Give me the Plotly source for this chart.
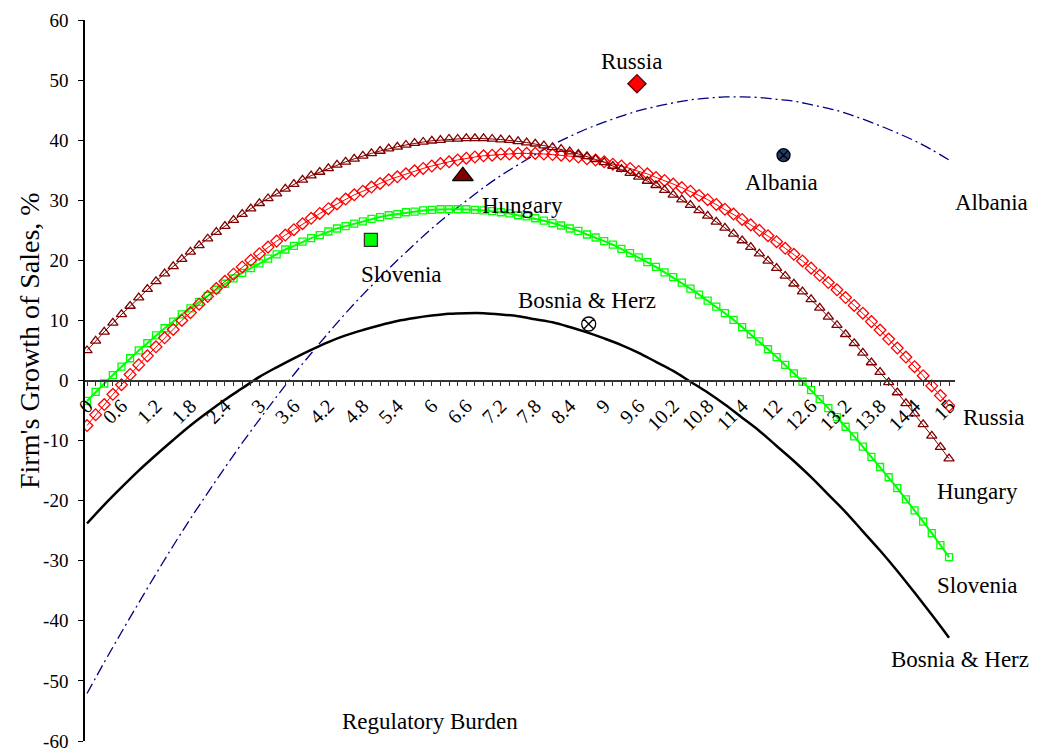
import plotly.graph_objects as go

# Regulatory burden categories (every 0.15) for the marker curves
burden = [0, 0.15, 0.3, 0.45, 0.6, 0.75, 0.9, 1.05, 1.2, 1.35, 1.5, 1.65, 1.8, 1.95, 2.1, 2.25,
          2.4, 2.55, 2.7, 2.85, 3, 3.15, 3.3, 3.45, 3.6, 3.75, 3.9, 4.05, 4.2, 4.35, 4.5, 4.65,
          4.8, 4.95, 5.1, 5.25, 5.4, 5.55, 5.7, 5.85, 6, 6.15, 6.3, 6.45, 6.6, 6.75, 6.9, 7.05,
          7.2, 7.35, 7.5, 7.65, 7.8, 7.95, 8.1, 8.25, 8.4, 8.55, 8.7, 8.85, 9, 9.15, 9.3, 9.45,
          9.6, 9.75, 9.9, 10.05, 10.2, 10.35, 10.5, 10.65, 10.8, 10.95, 11.1, 11.25, 11.4, 11.55,
          11.7, 11.85, 12, 12.15, 12.3, 12.45, 12.6, 12.75, 12.9, 13.05, 13.2, 13.35, 13.5, 13.65,
          13.8, 13.95, 14.1, 14.25, 14.4, 14.55, 14.7, 14.85, 15]

hungary = [5.0, 6.6, 8.1, 9.6, 11.0, 12.4, 13.8, 15.2, 16.5, 17.8, 19.0, 20.2, 21.4, 22.5, 23.6, 24.7,
           25.7, 26.7, 27.7, 28.6, 29.5, 30.3, 31.1, 31.9, 32.7, 33.4, 34.1, 34.7, 35.3, 35.9, 36.4, 36.9,
           37.4, 37.8, 38.2, 38.6, 38.9, 39.2, 39.5, 39.7, 39.9, 40.0, 40.2, 40.2, 40.3, 40.3, 40.3, 40.2,
           40.1, 40.0, 39.8, 39.6, 39.4, 39.1, 38.8, 38.5, 38.1, 37.7, 37.3, 36.8, 36.3, 35.7, 35.2, 34.5,
           33.9, 33.2, 32.5, 31.7, 30.9, 30.1, 29.2, 28.3, 27.4, 26.4, 25.4, 24.4, 23.3, 22.2,
           21.1, 19.9, 18.7, 17.4, 16.1, 14.8, 13.5, 12.1, 10.6, 9.2, 7.7, 6.2, 4.6, 3.0,
           1.4, -0.3, -2.0, -3.8, -5.5, -7.3, -9.2, -11.1, -13.0]

russia = [-7.5, -5.7, -4.0, -2.3, -0.7, 1.0, 2.6, 4.1, 5.6, 7.1, 8.5, 10.0, 11.3, 12.7, 14.0, 15.3,
          16.5, 17.7, 18.9, 20.0, 21.1, 22.2, 23.2, 24.2, 25.1, 26.1, 27.0, 27.8, 28.6, 29.4, 30.2, 30.9,
          31.5, 32.2, 32.8, 33.4, 33.9, 34.4, 34.9, 35.3, 35.7, 36.1, 36.4, 36.7, 37.0, 37.2, 37.4, 37.5,
          37.7, 37.7, 37.8, 37.8, 37.8, 37.7, 37.6, 37.5, 37.4, 37.2, 36.9, 36.7, 36.4, 36.0, 35.7, 35.3,
          34.8, 34.4, 33.8, 33.3, 32.7, 32.1, 31.5, 30.8, 30.1, 29.3, 28.5, 27.7, 26.8, 25.9,
          25.0, 24.1, 23.1, 22.0, 21.0, 19.9, 18.7, 17.5, 16.3, 15.1, 13.8, 12.5, 11.2, 9.8,
          8.4, 6.9, 5.4, 3.9, 2.3, 0.8, -0.9, -2.5, -4.2]

slovenia = [-3.4, -1.9, -0.5, 0.9, 2.3, 3.7, 5.0, 6.2, 7.5, 8.7, 9.8, 11.0, 12.0, 13.1, 14.1, 15.1,
            16.1, 17.0, 17.9, 18.7, 19.5, 20.3, 21.0, 21.8, 22.4, 23.1, 23.7, 24.2, 24.8, 25.3, 25.7, 26.1,
            26.5, 26.9, 27.2, 27.5, 27.7, 28.0, 28.1, 28.3, 28.4, 28.5, 28.5, 28.5, 28.5, 28.4, 28.3, 28.2,
            28.0, 27.8, 27.5, 27.3, 27.0, 26.6, 26.2, 25.8, 25.3, 24.9, 24.3, 23.8, 23.2, 22.6, 21.9, 21.2,
            20.5, 19.7, 18.9, 18.0, 17.2, 16.3, 15.3, 14.3, 13.3, 12.3, 11.2, 10.1, 8.9, 7.7,
            6.5, 5.2, 3.9, 2.6, 1.2, -0.2, -1.6, -3.1, -4.6, -6.1, -7.7, -9.3, -11.0, -12.7,
            -14.4, -16.1, -17.9, -19.8, -21.6, -23.5, -25.4, -27.4, -29.4]

# Line-only curves (read every 0.3)
burden_coarse = [0, 0.3, 0.6, 0.9, 1.2, 1.5, 1.8, 2.1, 2.4, 2.7, 3, 3.3, 3.6, 3.9, 4.2, 4.5, 4.8,
                 5.1, 5.4, 5.7, 6, 6.3, 6.6, 6.9, 7.2, 7.5, 7.8, 8.1, 8.4, 8.7, 9, 9.3, 9.6,
                 9.9, 10.2, 10.5, 10.8, 11.1, 11.4, 11.7, 12, 12.3, 12.6, 12.9, 13.2, 13.5, 13.8,
                 14.1, 14.4, 14.7, 15]

bosnia = [-23.8, -20.7, -17.8, -15.0, -12.4, -9.9, -7.5, -5.3, -3.2, -1.3, 0.6, 2.2, 3.7, 5.1, 6.4, 7.5, 8.4,
          9.2, 9.9, 10.4, 10.8, 11.1, 11.2, 11.2, 11.0, 10.7, 10.2, 9.7, 8.9, 8.0, 7.0, 5.9, 4.6,
          3.1, 1.6, -0.2, -2.0, -4.0, -6.2, -8.4, -10.9, -13.4, -16.1, -19.0, -21.9, -25.1, -28.3,
          -31.7, -35.3, -39.0, -42.8]

albania = [-52.1, -46.9, -41.9, -37.0, -32.2, -27.5, -23.0, -18.7, -14.5, -10.4, -6.5, -2.7, 1.0, 4.5, 7.9, 11.2, 14.3,
           17.2, 20.0, 22.7, 25.3, 27.7, 29.9, 32.1, 34.1, 35.9, 37.6, 39.2, 40.6, 41.9, 43.0, 44.0, 44.9,
           45.6, 46.2, 46.7, 47.0, 47.2, 47.2, 47.1, 46.8, 46.5, 45.9, 45.3, 44.5, 43.5, 42.4,
           41.2, 39.9, 38.4, 36.7]

# Country observations
countries = ["Russia", "Albania", "Hungary", "Slovenia", "Bosnia & Herz"]
obs_burden = [9.57, 12.12, 6.54, 4.94, 8.73]
obs_growth = [49.4, 37.5, 34.0, 23.4, 9.4]

x_ticks = [0, 0.6, 1.2, 1.8, 2.4, 3, 3.6, 4.2, 4.8, 5.4, 6, 6.6, 7.2, 7.8, 8.4, 9, 9.6,
           10.2, 10.8, 11.4, 12, 12.6, 13.2, 13.8, 14.4, 15]
y_ticks = [-60, -50, -40, -30, -20, -10, 0, 10, 20, 30, 40, 50, 60]

FONT = "Liberation Serif"

fig = go.Figure()

fig.add_trace(go.Scatter(x=burden_coarse, y=albania, mode="lines",
                         line=dict(color="#000080", width=1.3, dash="11px,4px,2px,4px", shape="spline")))
fig.add_trace(go.Scatter(x=burden_coarse, y=bosnia, mode="lines",
                         line=dict(color="black", width=2.5, shape="spline")))
fig.add_trace(go.Scatter(x=burden, y=slovenia, mode="lines+markers",
                         line=dict(color="#00FF00", width=2),
                         marker=dict(symbol="square-open", size=7, color="#00FF00", opacity=1,
                                     line=dict(width=1.3, color="#00FF00"))))
fig.add_trace(go.Scatter(x=burden, y=russia, mode="lines+markers",
                         line=dict(color="#FF0000", width=1),
                         marker=dict(symbol="diamond-open", size=9, color="#FF0000", opacity=1,
                                     line=dict(width=1.3, color="#FF0000"))))
fig.add_trace(go.Scatter(x=burden, y=hungary, mode="lines+markers",
                         line=dict(color="#800000", width=1),
                         marker=dict(symbol="triangle-up-open", size=9, color="#800000", opacity=1,
                                     line=dict(width=1.3, color="#800000"))))

obs_symbols = ["diamond", "circle-x", "triangle-up", "square", "circle-x-open"]
obs_colors = ["#FF0000", "#1F3A6E", "#800000", "#00FF00", "black"]
obs_sizes = [14, 13, 18, 13, 14]
obs_line = ["#600000", "black", "black", "#333333", "black"]
fig.add_trace(go.Scatter(x=obs_burden, y=obs_growth, mode="markers",
                         marker=dict(symbol=obs_symbols, color=obs_colors, size=obs_sizes, opacity=1,
                                     line=dict(color=obs_line, width=1.3))))

# Point labels
point_lab_x = [9.48, 12.09, 7.57, 5.48, 8.70]
point_lab_y = [53.1, 33.0, 29.1, 17.6, 13.3]
for t, xx, yy in zip(countries, point_lab_x, point_lab_y):
    fig.add_annotation(x=xx, y=yy, text=t, showarrow=False, xanchor="center", yanchor="middle",
                       font=dict(family=FONT, size=23, color="black"))

# Curve-end labels (placed to the right of the plot area)
end_lab = ["Albania", "Russia", "Hungary", "Slovenia", "Bosnia & Herz"]
end_lab_px = [1.0425, 1.0437, 1.0264, 1.0264, 1.0057]
end_lab_py = [0.7462, 0.448, 0.3467, 0.215, 0.1137]
for t, xx, yy in zip(end_lab, end_lab_px, end_lab_py):
    fig.add_annotation(xref="paper", yref="paper", x=xx, y=yy, text=t, showarrow=False,
                       xanchor="center", yanchor="middle",
                       font=dict(family=FONT, size=23, color="black"))

fig.add_annotation(xref="paper", yref="paper", x=0.3966, y=0.0264, text="Regulatory Burden",
                   showarrow=False, xanchor="center", yanchor="middle",
                   font=dict(family=FONT, size=23, color="black"))
fig.add_annotation(xref="paper", yref="paper", x=-0.0632, y=0.5548,
                   text="Firm's Growth of Sales, %", textangle=-90, showarrow=False,
                   xanchor="center", yanchor="middle",
                   font=dict(family=FONT, size=28, color="black"))

fig.update_layout(
    width=1033, height=745,
    paper_bgcolor="white", plot_bgcolor="white",
    margin=dict(l=77, r=86, t=12, b=12, autoexpand=False),
    showlegend=False,
    font=dict(family=FONT, color="black"),
    xaxis=dict(range=[-0.035, 15.104], anchor="free", position=0.5, automargin=False,
               tickmode="array", tickvals=x_ticks, ticktext=[str(v) for v in x_ticks],
               tickangle=-45, ticks="outside", ticklen=5, tickcolor="#333333",
               showline=True, linecolor="#333333", linewidth=1.5,
               showgrid=False, zeroline=False, ticklabeloverflow="allow",
               minor=dict(dtick=0.15, tick0=0, ticks="outside", ticklen=5, tickcolor="#333333", showgrid=False),
               tickfont=dict(family=FONT, size=20, color="black")),
    yaxis=dict(range=[-60, 60], tickmode="array", tickvals=y_ticks, automargin=False,
               ticktext=[str(v) for v in y_ticks], ticklabelstandoff=6, ticklabeloverflow="allow",
               ticks="outside", ticklen=5, tickcolor="black",
               showline=True, linecolor="black", linewidth=1.5,
               showgrid=False, zeroline=False,
               tickfont=dict(family=FONT, size=19, color="black")),
)

fig.write_html("out.html")
